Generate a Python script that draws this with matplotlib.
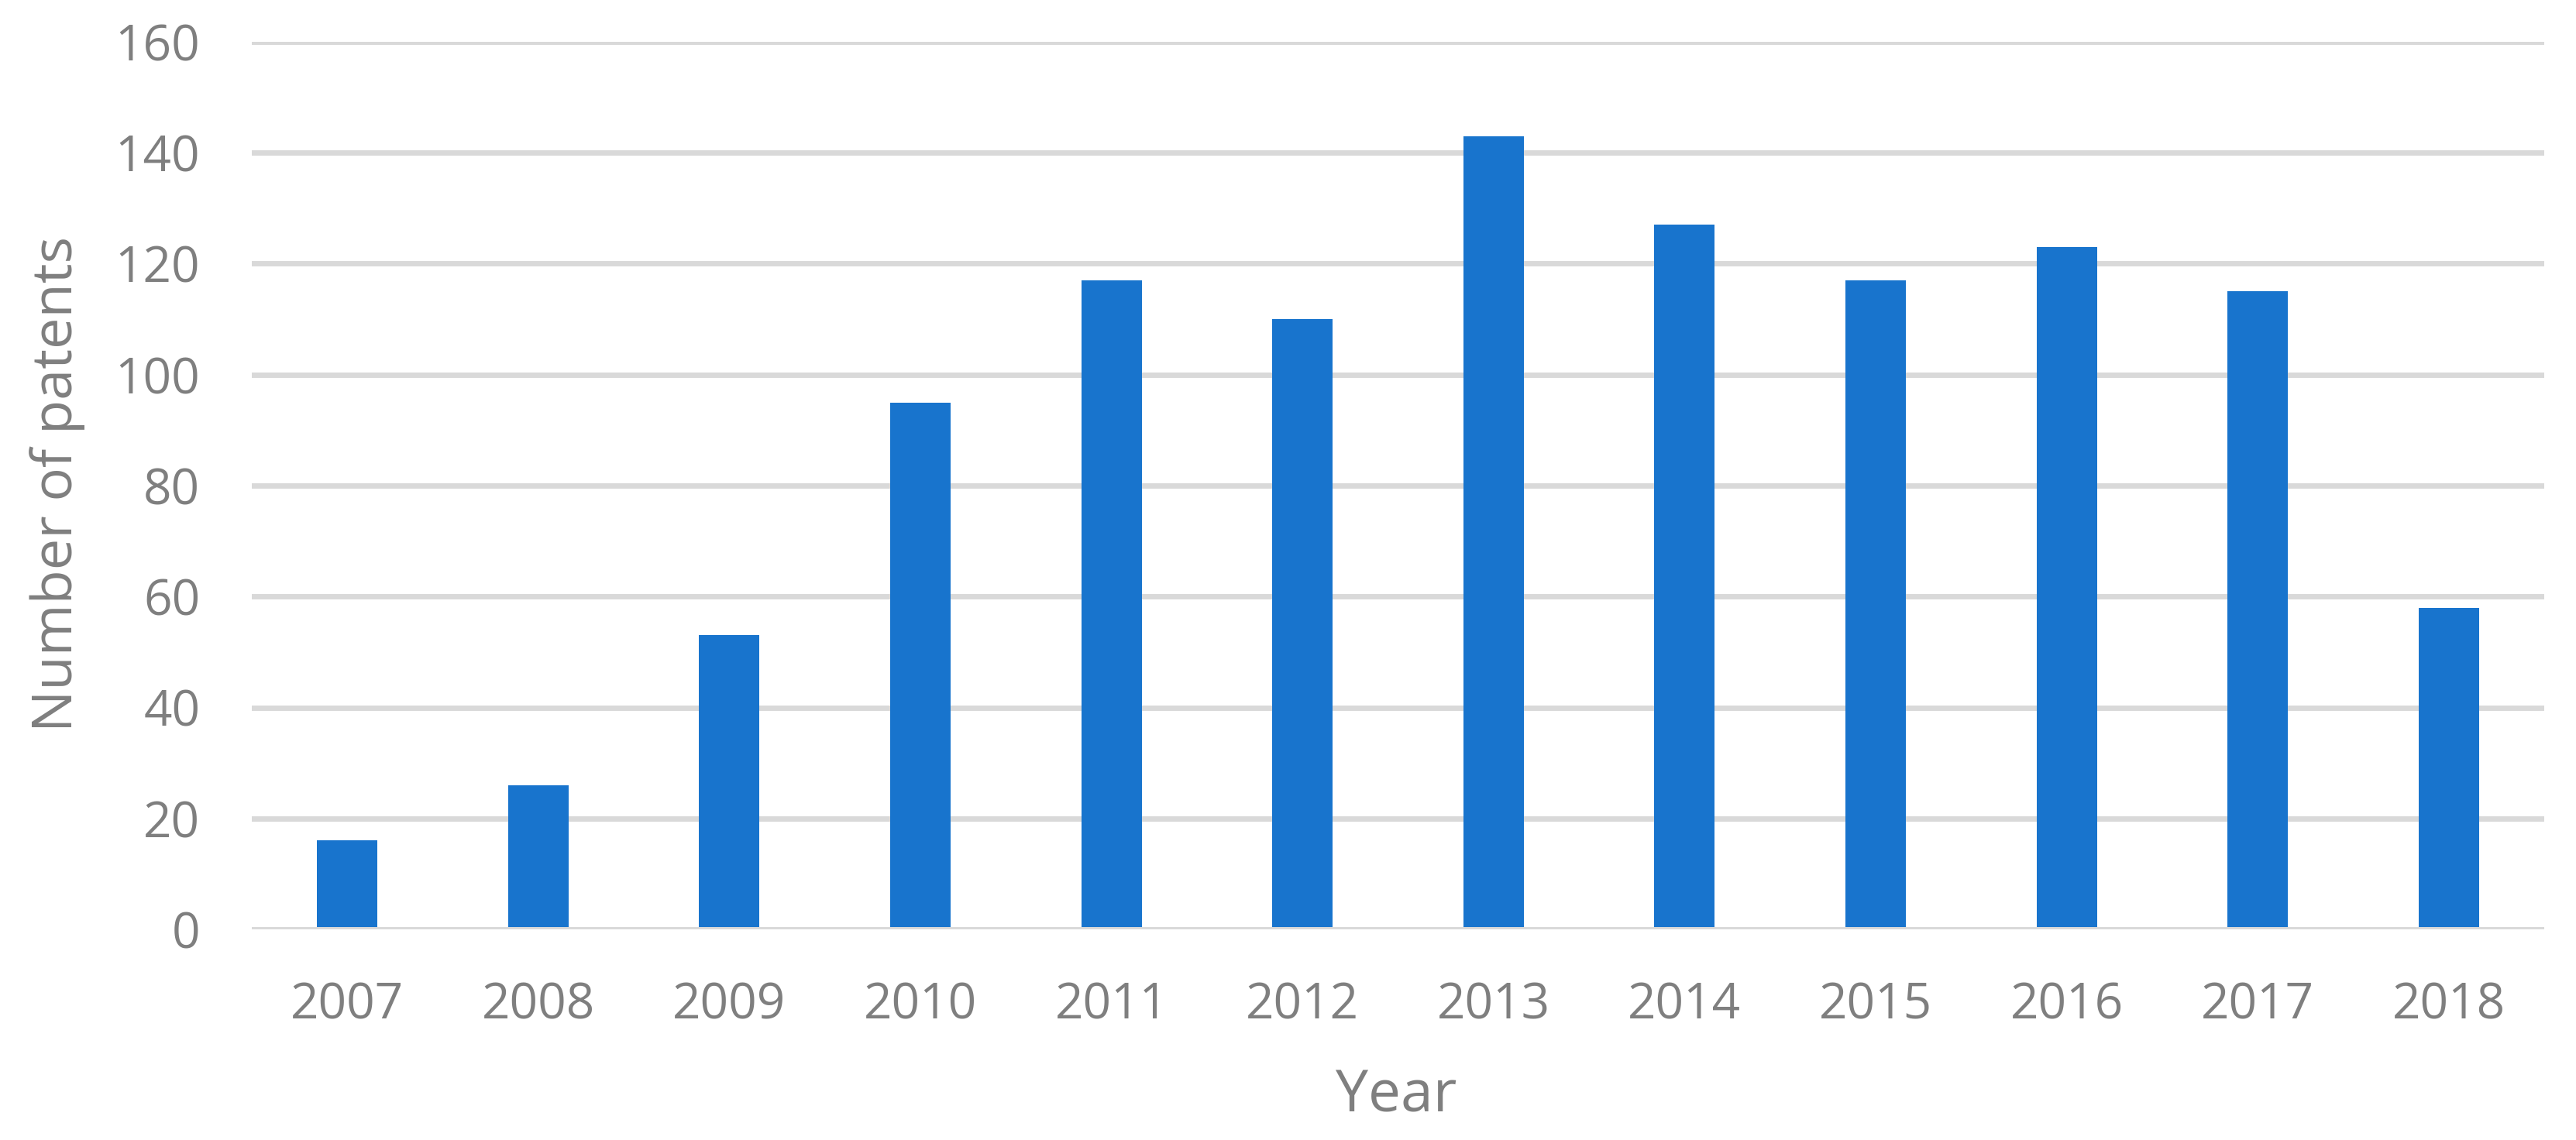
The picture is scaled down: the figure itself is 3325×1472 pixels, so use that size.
import matplotlib.pyplot as plt

plt.rcParams["font.family"] = ["Open Sans", "DejaVu Sans"]

years = ["2007", "2008", "2009", "2010", "2011", "2012",
         "2013", "2014", "2015", "2016", "2017", "2018"]
patents = [16, 26, 53, 95, 117, 110, 143, 127, 117, 123, 115, 58]
y_ticks = [0, 20, 40, 60, 80, 100, 120, 140, 160]

text_color = "#7F7F7F"
grid_color = "#D9D9D9"
bar_color = "#1874CD"

fig = plt.figure(figsize=(16.625, 7.36), dpi=200)
ax = fig.add_axes([325 / 3325, 1 - 1200 / 1472, 2959 / 3325, 1146 / 1472])

x = list(range(len(years)))
ax.bar(x, patents, width=0.316, color=bar_color, zorder=2)

# gridlines, the zero line sits over the bar bottoms
for t in y_ticks:
    ax.axhline(t, color=grid_color, linewidth=2.5, zorder=3 if t == 0 else 1)

ax.set_xlim(-0.5, len(years) - 0.5)
ax.set_ylim(0, 160)
ax.set_xticks(x)
ax.set_xticklabels(years)
ax.set_yticks(y_ticks)

for side in ["top", "right", "bottom", "left"]:
    ax.spines[side].set_visible(False)

ax.tick_params(axis="both", length=0, labelsize=23, labelcolor=text_color)
ax.tick_params(axis="x", pad=24)
ax.tick_params(axis="y", pad=24)

fig.text(74 / 3325, 1 - 625 / 1472, "Number of patents", rotation=90,
         ha="center", va="center", fontsize=26, color=text_color)
fig.text(1802 / 3325, 1 - 1416 / 1472, "Year",
         ha="center", va="center", fontsize=27, color=text_color)

fig.savefig("out.png", dpi=200)
